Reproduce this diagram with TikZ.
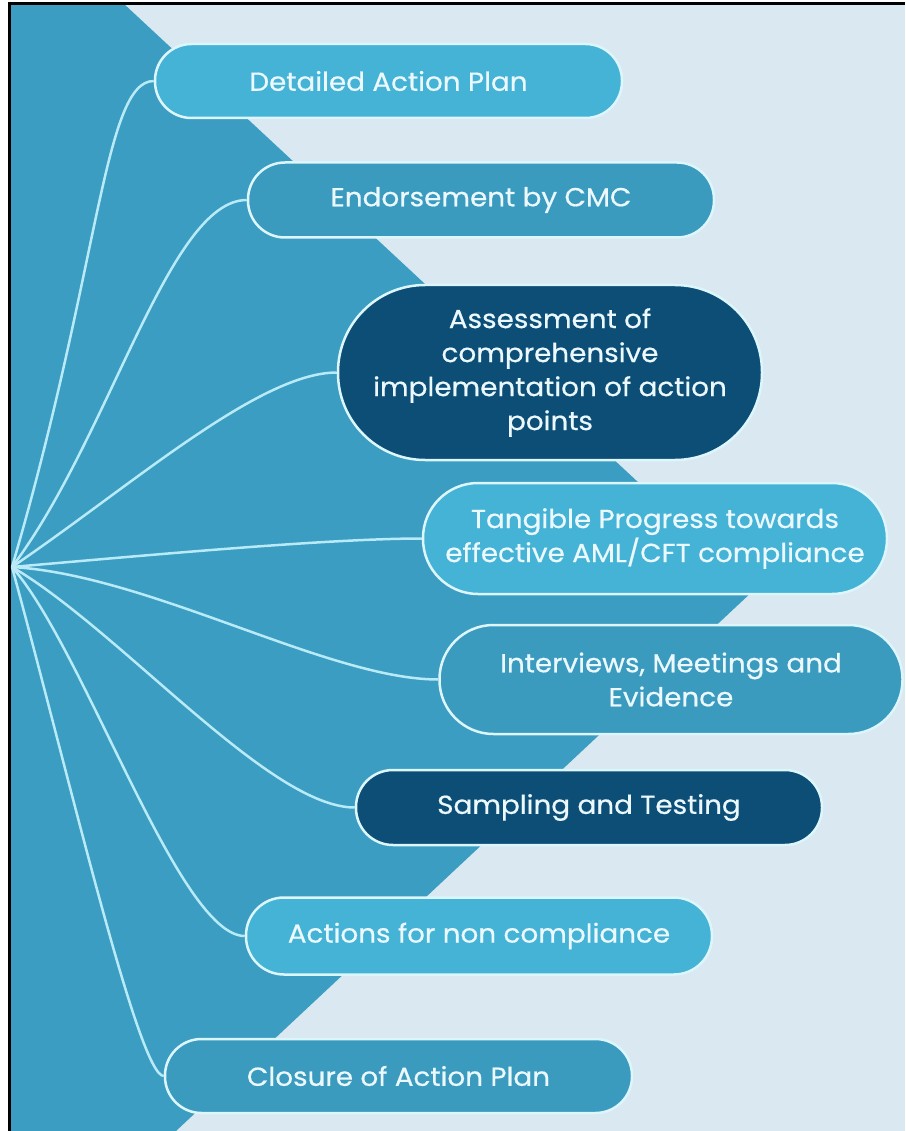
\documentclass[tikz,border=0pt]{standalone}
\usepackage{fontspec}
\setmainfont{Poppins}[FakeStretch=1.07, FakeBold=0.6]
\definecolor{paleblue}{HTML}{D9E8F1}
\definecolor{deepteal}{HTML}{3A9DC1}
\definecolor{skylight}{HTML}{45B3D6}
\definecolor{midteal}{HTML}{3A9BBF}
\definecolor{navy}{HTML}{0C4E76}
\definecolor{rimcyan}{HTML}{DDF6FC}
\definecolor{linkcyan}{HTML}{B8EAF8}
\begin{document}
\begin{tikzpicture}[x=1pt, y=-1pt,
  every node/.style={text=white!92!cyan, font=\fontsize{26}{34}\selectfont, align=center,
    inner sep=0pt, draw=rimcyan, line width=2.5pt},
  pill/.style 2 args={minimum width=#1pt, minimum height=#2pt, rounded corners=#2/2-0.5},
  link/.style={draw=linkcyan, line width=2.5pt}]
\useasboundingbox (0,0) rectangle (905,1131);
\fill[white] (0,0) rectangle (905,1131);
\fill[paleblue] (10,4) rectangle (905,1131);
\fill[deepteal] (10,4) -- (124,4) -- (754,590) -- (176,1131) -- (10,1131) -- cycle;
\draw[line width=3pt] (9.5,1131) -- (9.5,3.5) -- (905,3.5);
\coordinate (hub) at (12,567);
\node[pill={467}{74}, fill=skylight] (dap) at (388.5,81) {Detailed Action Plan};
\node[pill={466}{75}, fill=midteal] (cmc) at (481,200) {Endorsement by CMC};
\node[pill={424}{175}, fill=navy] (asm) at (550,372.5)
  {Assessment of\\comprehensive\\implementation of action\\points};
\node[pill={464}{111}, fill=skylight] (tpr) at (655,538.5)
  {Tangible Progress towards\\effective AML/CFT compliance};
\node[pill={463}{109}, fill=midteal] (ime) at (671,679.5) {Interviews, Meetings and\\Evidence};
\node[pill={466}{75}, fill=navy] (sat) at (589,807.5) {Sampling and Testing};
\node[pill={466}{77}, fill=skylight] (anc) at (479,936) {Actions for non compliance};
\node[pill={467}{74}, fill=midteal] (clo) at (398.5,1076) {Closure of Action Plan};
\foreach \n/\a/\b/\c in {dap/88/-300/50, cmc/98/-130/78, asm/118/-80/78, tpr/138/-12/93,
    ime/138/8/110, sat/108/63/86, anc/73/83/66, clo/58/213/25}
  \draw[link] (hub) .. controls +(\a,\b) and +(-\c,0) .. (\n.west);
\end{tikzpicture}
\end{document}
